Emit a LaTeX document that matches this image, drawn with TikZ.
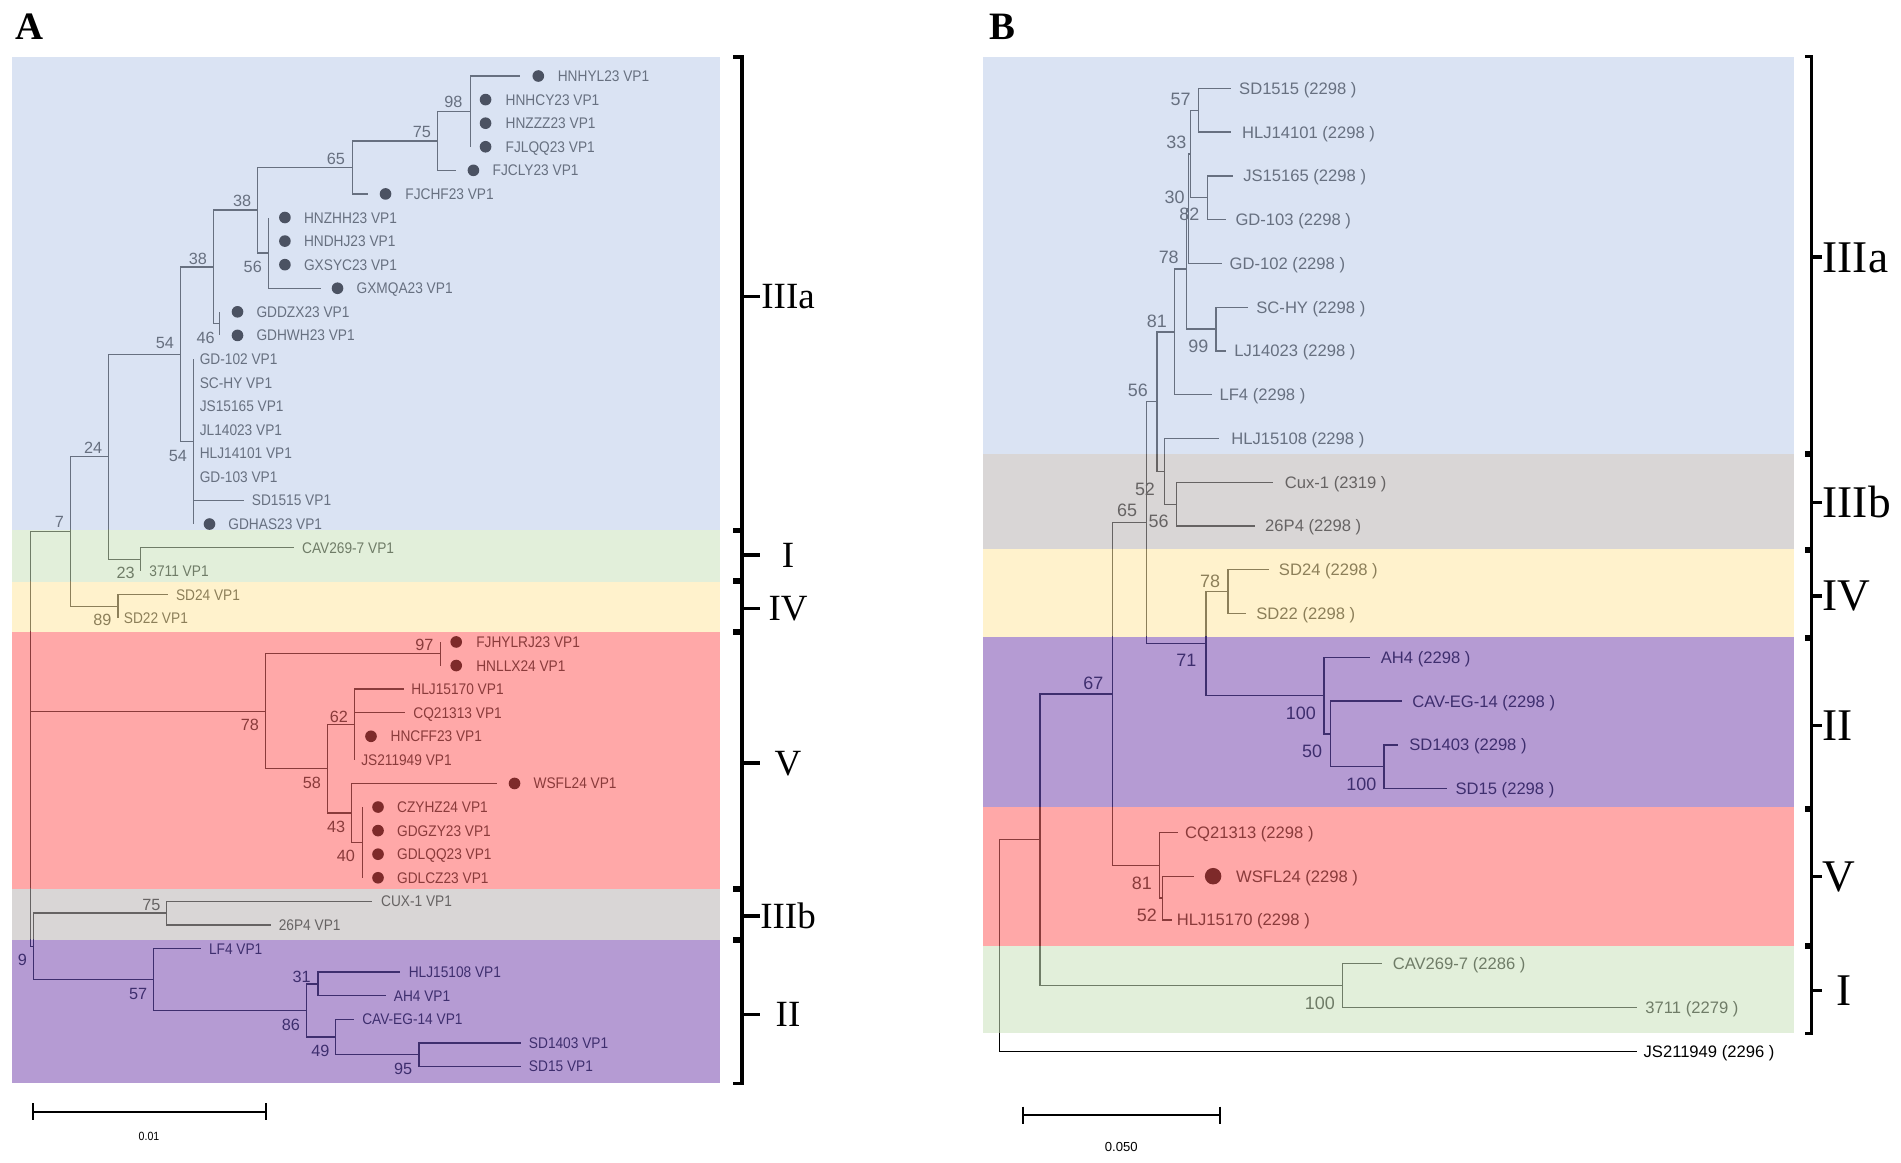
\documentclass[tikz,border=0pt]{standalone}
\usepackage{fontspec}
\setmainfont{Liberation Serif}
\newfontfamily\tipfA[FakeStretch=0.89]{Liberation Sans}
\newfontfamily\sansF{Liberation Sans}
\definecolor{blueBG}{HTML}{DAE3F3}
\definecolor{greenBG}{HTML}{E2EFDA}
\definecolor{yellowBG}{HTML}{FFF2CC}
\definecolor{redBG}{HTML}{FFA8A8}
\definecolor{greyBG}{HTML}{D9D6D6}
\definecolor{purpleBG}{HTML}{B59BD3}
\definecolor{blueTX}{HTML}{677080}
\definecolor{greenTX}{HTML}{6F7C67}
\definecolor{yellowTX}{HTML}{8C7F59}
\definecolor{redTX}{HTML}{8A3B3B}
\definecolor{greyTX}{HTML}{666363}
\definecolor{purpleTX}{HTML}{3E2E6E}
\definecolor{blueCirc}{HTML}{4B5262}
\definecolor{redCirc}{HTML}{7E2A2A}
\tikzset{
 tipa/.style={anchor=west, inner sep=0pt, font=\tipfA\fontsize{6.35pt}{7pt}\selectfont, text height=4.55pt, text depth=0pt},
 bsa/.style={inner sep=0pt, font=\sansF\fontsize{6.7pt}{7pt}\selectfont, text height=4.8pt, text depth=0pt},
 tipb/.style={anchor=west, inner sep=0pt, font=\sansF\fontsize{6.85pt}{8pt}\selectfont, text height=4.9pt, text depth=0pt},
 bsb/.style={inner sep=0pt, font=\sansF\fontsize{7.4pt}{8pt}\selectfont, text height=5.3pt, text depth=0pt},
 dota/.style={circle, inner sep=0pt, minimum size=4.8pt},
 dotb/.style={circle, inner sep=0pt, minimum size=6.8pt},
 edge/.style={line width=0.55pt, line join=miter},
 brk/.style={line width=1.35pt, line cap=butt, line join=miter},
 cladea/.style={inner sep=0pt, font=\fontsize{15.25pt}{16pt}\selectfont, text height=10.1pt, text depth=0pt},
 cladeb/.style={inner sep=0pt, anchor=west, font=\fontsize{18.7pt}{19pt}\selectfont, text height=12.4pt, text depth=0pt},
 panel/.style={inner sep=0pt, font=\bfseries\fontsize{16pt}{17pt}\selectfont},
 scaletxt/.style={inner sep=0pt}
}
\newcommand\edgesA[1]{\draw[edge,#1]
 (ra) |- (a7) (ra) |- (a78) (ra) |- (a9)
 (a7) |- (a24) (a7) |- (a89)
 (a24) |- (a54a) (a24) |- (a23)
 (a54a) |- (a38b) (a54a) |- (a54b)
 (a38b) |- (a38a) (a38b) |- (a46)
 (a38a) |- (a65) (a38a) |- (a56)
 (a65) |- (a75) (a65) |- (ta5)
 (a75) |- (a98) (a75) |- (ta4)
 (a98) |- (ta0) (a98) |- (ta1) (a98) |- (ta2) (a98) |- (ta3)
 (a56) |- (ta6) (a56) |- (ta7) (a56) |- (ta8) (a56) |- (ta9)
 (a46) |- (ta10) (a46) |- (ta11)
 (a54b) |- (ta12) (a54b) |- (ta13) (a54b) |- (ta14) (a54b) |- (ta15)
 (a54b) |- (ta16) (a54b) |- (ta17) (a54b) |- (ta18) (a54b) |- (ta19)
 (a23) |- (ta20) (a23) |- (ta21)
 (a89) |- (ta22) (a89) |- (ta23)
 (a78) |- (a97) (a78) |- (a58)
 (a97) |- (ta24) (a97) |- (ta25)
 (a58) |- (a62) (a58) |- (a43)
 (a62) |- (ta26) (a62) |- (ta27) (a62) |- (ta28) (a62) |- (ta29)
 (a43) |- (ta30) (a43) |- (a40)
 (a40) |- (ta31) (a40) |- (ta32) (a40) |- (ta33) (a40) |- (ta34)
 (a9) |- (a75g) (a9) |- (a57)
 (a75g) |- (ta35) (a75g) |- (ta36)
 (a57) |- (ta37) (a57) |- (a86)
 (a86) |- (a31) (a86) |- (a49)
 (a31) |- (ta38) (a31) |- (ta39)
 (a49) |- (ta40) (a49) |- (a95)
 (a95) |- (ta41) (a95) |- (ta42);}
\newcommand\edgesB[1]{\draw[edge,#1]
 (rb) |- (bin) (rb) |- (tb22)
 (bin) |- (b67) (bin) |- (b100c)
 (b67) |- (b65) (b67) |- (b81b)
 (b65) |- (b56) (b65) |- (b71)
 (b56) |- (b81) (b56) |- (b52)
 (b81) |- (b78) (b81) |- (tb7)
 (b78) |- (b30) (b78) |- (b99)
 (b30) |- (b33) (b30) |- (tb4)
 (b33) |- (b57) (b33) |- (b82)
 (b57) |- (tb0) (b57) |- (tb1)
 (b82) |- (tb2) (b82) |- (tb3)
 (b99) |- (tb5) (b99) |- (tb6)
 (b52) |- (tb8) (b52) |- (b56b)
 (b56b) |- (tb9) (b56b) |- (tb10)
 (b71) |- (b78b) (b71) |- (b100)
 (b78b) |- (tb11) (b78b) |- (tb12)
 (b100) |- (tb13) (b100) |- (b50)
 (b50) |- (tb14) (b50) |- (b100b)
 (b100b) |- (tb15) (b100b) |- (tb16)
 (b81b) |- (tb17) (b81b) |- (b52b)
 (b52b) |- (tb18) (b52b) |- (tb19)
 (b100c) |- (tb20) (b100c) |- (tb21);}
\newcommand\bracketA[4]{% y1, y2, ytick, label
 \draw[brk] (605,#1) -- (612,#1) -- (612,#2) -- (605,#2);
 \draw[brk] (612,#3) -- (627,#3);
 \node[cladea] at (650,#3) {#4};}
\newcommand\bracketB[3]{%
 \draw[brk] (1488.8,#1) -- (1494.3,#1) -- (1494.3,#2) -- (1488.8,#2);
 \draw[brk] (1494.3,#3) -- (1502.8,#3);}
\begin{document}
\begin{tikzpicture}[x=0.5pt,y=-0.5pt]
\useasboundingbox (0,0) rectangle (1568,959);
\fill[white] (0,0) rectangle (1568,959);
% ---------- backgrounds
\fill[blueBG] (10,47) rectangle (594,437);
\fill[greenBG] (10,437) rectangle (594,480);
\fill[yellowBG] (10,480) rectangle (594,521);
\fill[redBG] (10,521) rectangle (594,733);
\fill[greyBG] (10,733) rectangle (594,775);
\fill[purpleBG] (10,775) rectangle (594,893);
\fill[blueBG] (811,47.3) rectangle (1480,374.7);
\fill[greyBG] (811,374.7) rectangle (1480,453.1);
\fill[yellowBG] (811,453.1) rectangle (1480,525.1);
\fill[purpleBG] (811,525.1) rectangle (1480,665.9);
\fill[redBG] (811,665.9) rectangle (1480,780.3);
\fill[greenBG] (811,780.3) rectangle (1480,852.3);
% ---------- tree A coordinates
\coordinate (ra) at (25,609.5);
\coordinate (a7) at (58.4,438.56);
\coordinate (a24) at (89.5,376.79);
\coordinate (a54a) at (149,292.15);
\coordinate (a38b) at (175.9,220.12);
\coordinate (a38a) at (212.4,173.32);
\coordinate (a65) at (290.7,138.07);
\coordinate (a75) at (361,116.19);
\coordinate (a98) at (388,91.875);
\coordinate (a56) at (221.6,208.575);
\coordinate (a46) at (181.3,266.925);
\coordinate (a54b) at (159.4,364.175);
\coordinate (a23) at (116,461.425);
\coordinate (a89) at (97.2,500.325);
\coordinate (a78) at (218.9,586.63);
\coordinate (a97) at (363.3,539.225);
\coordinate (a58) at (270,634.04);
\coordinate (a62) at (292.6,597.575);
\coordinate (a43) at (290,670.51);
\coordinate (a40) at (298.8,694.825);
\coordinate (a9) at (27.6,780.53);
\coordinate (a75g) at (137.5,753.175);
\coordinate (a57) at (126.7,807.88);
\coordinate (a86) at (252.7,833.41);
\coordinate (a31) at (262.3,811.525);
\coordinate (a49) at (276.5,855.29);
\coordinate (a95) at (345.6,869.875);
\coordinate (ta0) at (429,62.7);
\coordinate (ta1) at (388,82.15);
\coordinate (ta2) at (388,101.6);
\coordinate (ta3) at (388,121.05);
\coordinate (ta4) at (376,140.5);
\coordinate (ta5) at (303.4,159.95);
\coordinate (ta6) at (221.6,179.4);
\coordinate (ta7) at (221.6,198.85);
\coordinate (ta8) at (221.6,218.3);
\coordinate (ta9) at (265,237.75);
\coordinate (ta10) at (181.3,257.2);
\coordinate (ta11) at (181.3,276.65);
\coordinate (ta12) at (159.4,296.1);
\coordinate (ta13) at (159.4,315.55);
\coordinate (ta14) at (159.4,335);
\coordinate (ta15) at (159.4,354.45);
\coordinate (ta16) at (159.4,373.9);
\coordinate (ta17) at (159.4,393.35);
\coordinate (ta18) at (201.6,412.8);
\coordinate (ta19) at (159.4,432.25);
\coordinate (ta20) at (242.7,451.7);
\coordinate (ta21) at (116,471.15);
\coordinate (ta22) at (138.2,490.6);
\coordinate (ta23) at (97.2,510.05);
\coordinate (ta24) at (363.3,529.5);
\coordinate (ta25) at (363.3,548.95);
\coordinate (ta26) at (333.3,568.4);
\coordinate (ta27) at (334,587.85);
\coordinate (ta28) at (292.6,607.3);
\coordinate (ta29) at (292.6,626.75);
\coordinate (ta30) at (410,646.2);
\coordinate (ta31) at (298.8,665.65);
\coordinate (ta32) at (298.8,685.1);
\coordinate (ta33) at (298.8,704.55);
\coordinate (ta34) at (298.8,724);
\coordinate (ta35) at (307.2,743.45);
\coordinate (ta36) at (223.5,762.9);
\coordinate (ta37) at (165.9,782.35);
\coordinate (ta38) at (330.3,801.8);
\coordinate (ta39) at (318.7,821.25);
\coordinate (ta40) at (291.9,840.7);
\coordinate (ta41) at (430,860.15);
\coordinate (ta42) at (430,879.6);
% ---------- tree B coordinates
\coordinate (rb) at (824.5,780);
\coordinate (bin) at (857.8,692.67);
\coordinate (b67) at (917.5,572.38);
\coordinate (b100c) at (1107.3,812.95);
\coordinate (b65) at (945.9,431.08);
\coordinate (b81b) at (956.6,713.68);
\coordinate (b56) at (954.2,331.24);
\coordinate (b71) at (994.8,530.92);
\coordinate (b81) at (968.8,273.71);
\coordinate (b52) at (960.5,388.78);
\coordinate (b78) at (978.6,221.81);
\coordinate (b30) at (980.1,172.175);
\coordinate (b99) at (1003.1,271.45);
\coordinate (b33) at (982.1,127.05);
\coordinate (b57) at (988.4,90.95);
\coordinate (b82) at (995.7,163.15);
\coordinate (b56b) at (970.3,415.85);
\coordinate (b78b) at (1012.9,488.05);
\coordinate (b100) at (1092.1,573.79);
\coordinate (b50) at (1097.5,605.38);
\coordinate (b100b) at (1141.5,632.45);
\coordinate (b52b) at (959.1,740.75);
\coordinate (tb0) at (1015.3,72.9);
\coordinate (tb1) at (1015.3,109);
\coordinate (tb2) at (1016.8,145.1);
\coordinate (tb3) at (1011.4,181.2);
\coordinate (tb4) at (1008,217.3);
\coordinate (tb5) at (1029,253.4);
\coordinate (tb6) at (1011.4,289.5);
\coordinate (tb7) at (999.7,325.6);
\coordinate (tb8) at (1005.5,361.7);
\coordinate (tb9) at (1049.6,397.8);
\coordinate (tb10) at (1034.9,433.9);
\coordinate (tb11) at (1047.1,470);
\coordinate (tb12) at (1027.5,506.1);
\coordinate (tb13) at (1130.3,542.2);
\coordinate (tb14) at (1156.2,578.3);
\coordinate (tb15) at (1153.3,614.4);
\coordinate (tb16) at (1193.9,650.5);
\coordinate (tb17) at (971.3,686.6);
\coordinate (tb18) at (985,722.7);
\coordinate (tb19) at (966.4,758.8);
\coordinate (tb20) at (1140.1,794.9);
\coordinate (tb21) at (1350.4,831);
\coordinate (tb22) at (1350.4,867.1);
% ---------- edges, coloured per region
\begin{scope}\clip (10,47) rectangle (594,437); \edgesA{blueTX}\end{scope}
\begin{scope}\clip (10,437) rectangle (594,480); \edgesA{greenTX}\end{scope}
\begin{scope}\clip (10,480) rectangle (594,521); \edgesA{yellowTX}\end{scope}
\begin{scope}\clip (10,521) rectangle (594,733); \edgesA{redTX}\end{scope}
\begin{scope}\clip (10,733) rectangle (594,775); \edgesA{greyTX}\end{scope}
\begin{scope}\clip (10,775) rectangle (594,893); \edgesA{purpleTX}\end{scope}
\begin{scope}\clip (811,47.3) rectangle (1480,374.7); \edgesB{blueTX}\end{scope}
\begin{scope}\clip (811,374.7) rectangle (1480,453.1); \edgesB{greyTX}\end{scope}
\begin{scope}\clip (811,453.1) rectangle (1480,525.1); \edgesB{yellowTX}\end{scope}
\begin{scope}\clip (811,525.1) rectangle (1480,665.9); \edgesB{purpleTX}\end{scope}
\begin{scope}\clip (811,665.9) rectangle (1480,780.3); \edgesB{redTX}\end{scope}
\begin{scope}\clip (811,780.3) rectangle (1480,852.3); \edgesB{greenTX}\end{scope}
\begin{scope}\clip (800,852.3) rectangle (1568,959); \edgesB{black}\end{scope}
% ---------- tips A
\begin{scope}[every node/.append style={text=blueTX}]
\node[tipa] (la0) at (459.7,62.7) {HNHYL23 VP1};
\node[tipa] (la1) at (416.7,82.15) {HNHCY23 VP1};
\node[tipa] (la2) at (416.7,101.6) {HNZZZ23 VP1};
\node[tipa] (la3) at (416.7,121.05) {FJLQQ23 VP1};
\node[tipa] (la4) at (406,140.5) {FJCLY23 VP1};
\node[tipa] (la5) at (334,159.95) {FJCHF23 VP1};
\node[tipa] (la6) at (250.4,179.4) {HNZHH23 VP1};
\node[tipa] (la7) at (250.4,198.85) {HNDHJ23 VP1};
\node[tipa] (la8) at (250.4,218.3) {GXSYC23 VP1};
\node[tipa] (la9) at (293.8,237.75) {GXMQA23 VP1};
\node[tipa] (la10) at (211.2,257.2) {GDDZX23 VP1};
\node[tipa] (la11) at (211.2,276.65) {GDHWH23 VP1};
\node[tipa] (la12) at (164.4,296.1) {GD-102 VP1};
\node[tipa] (la13) at (164.4,315.55) {SC-HY VP1};
\node[tipa] (la14) at (164.4,335) {JS15165 VP1};
\node[tipa] (la15) at (164.4,354.45) {JL14023 VP1};
\node[tipa] (la16) at (164.4,373.9) {HLJ14101 VP1};
\node[tipa] (la17) at (164.4,393.35) {GD-103 VP1};
\node[tipa] (la18) at (207.4,412.8) {SD1515 VP1};
\node[tipa] (la19) at (188,432.25) {GDHAS23 VP1};
\node[bsa] (ba98) at (374,83.9) {98};
\node[bsa] (ba75) at (348,108.6) {75};
\node[bsa] (ba65) at (277,130.6) {65};
\node[bsa] (ba38a) at (199.7,165.8) {38};
\node[bsa] (ba38b) at (163.2,213) {38};
\node[bsa] (ba56) at (208.5,220) {56};
\node[bsa] (ba46) at (169.7,278.2) {46};
\node[bsa] (ba54a) at (136,283) {54};
\node[bsa] (ba54b) at (146.7,376) {54};
\node[bsa] (ba24) at (76.8,369.3) {24};
\node[bsa] (ba7) at (49,430.3) {7};
\end{scope}
\foreach \n/\x/\y in {0/444/62.7,1/400.5/82.15,2/400.5/101.6,3/400.5/121.05,4/390.5/140.5,5/318/159.95,6/235/179.4,7/235/198.85,8/235/218.3,9/278.4/237.75,10/195.9/257.2,11/195.9/276.65,19/172.8/432.25}
 \node[dota, fill=blueCirc] (ca\n) at (\x,\y) {};
\begin{scope}[every node/.append style={text=greenTX}]
\node[tipa] (la20) at (248.8,451.7) {CAV269-7 VP1};
\node[tipa] (la21) at (122.9,471.15) {3711 VP1};
\node[bsa] (ba23) at (103.7,472.3) {23};
\end{scope}
\begin{scope}[every node/.append style={text=yellowTX}]
\node[tipa] (la22) at (144.8,490.6) {SD24 VP1};
\node[tipa] (la23) at (101.8,510.05) {SD22 VP1};
\node[bsa] (ba89) at (84.5,510.8) {89};
\end{scope}
\begin{scope}[every node/.append style={text=redTX}]
\node[tipa] (la24) at (392.5,529.5) {FJHYLRJ23 VP1};
\node[tipa] (la25) at (392.5,548.95) {HNLLX24 VP1};
\node[tipa] (la26) at (339,568.4) {HLJ15170 VP1};
\node[tipa] (la27) at (340.6,587.85) {CQ21313 VP1};
\node[tipa] (la28) at (321.8,607.3) {HNCFF23 VP1};
\node[tipa] (la29) at (297.6,626.75) {JS211949 VP1};
\node[tipa] (la30) at (439.7,646.2) {WSFL24 VP1};
\node[tipa] (la31) at (327.2,665.65) {CZYHZ24 VP1};
\node[tipa] (la32) at (327.2,685.1) {GDGZY23 VP1};
\node[tipa] (la33) at (327.2,704.55) {GDLQQ23 VP1};
\node[tipa] (la34) at (327.2,724) {GDLCZ23 VP1};
\node[bsa] (ba97) at (350,531.5) {97};
\node[bsa] (ba62) at (279.6,591.1) {62};
\node[bsa] (ba78) at (206.2,598) {78};
\node[bsa] (ba58) at (257.3,645.6) {58};
\node[bsa] (ba43) at (277.3,681.9) {43};
\node[bsa] (ba40) at (285.3,706) {40};
\end{scope}
\foreach \n/\x/\y in {24/376.3/529.5,25/376.3/548.95,28/306/607.3,30/424.4/646.2,31/311.8/665.65,32/311.8/685.1,33/311.8/704.55,34/311.8/724}
 \node[dota, fill=redCirc] (ca\n) at (\x,\y) {};
\begin{scope}[every node/.append style={text=greyTX}]
\node[tipa] (la35) at (314,743.45) {CUX-1 VP1};
\node[tipa] (la36) at (229.6,762.9) {26P4 VP1};
\node[bsa] (ba75g) at (124.8,746.5) {75};
\end{scope}
\begin{scope}[every node/.append style={text=purpleTX}]
\node[tipa] (la37) at (172,782.35) {LF4 VP1};
\node[tipa] (la38) at (336.8,801.8) {HLJ15108 VP1};
\node[tipa] (la39) at (324.5,821.25) {AH4 VP1};
\node[tipa] (la40) at (298.4,840.7) {CAV-EG-14 VP1};
\node[tipa] (la41) at (435.9,860.15) {SD1403 VP1};
\node[tipa] (la42) at (435.9,879.6) {SD15 VP1};
\node[bsa] (ba9) at (18.4,791.8) {9};
\node[bsa] (ba57) at (114,819.9) {57};
\node[bsa] (ba31) at (248.8,805.6) {31};
\node[bsa] (ba86) at (240,845.4) {86};
\node[bsa] (ba49) at (264.2,866.6) {49};
\node[bsa] (ba95) at (332.6,881.2) {95};
\end{scope}
% ---------- tips B
\begin{scope}[every node/.append style={text=blueTX}]
\node[tipb] (lb0) at (1021.7,72.9) {SD1515 (2298 )};
\node[tipb] (lb1) at (1024.1,109) {HLJ14101 (2298 )};
\node[tipb] (lb2) at (1025.1,145.1) {JS15165 (2298 )};
\node[tipb] (lb3) at (1018.7,181.2) {GD-103 (2298 )};
\node[tipb] (lb4) at (1013.9,217.3) {GD-102 (2298 )};
\node[tipb] (lb5) at (1035.9,253.4) {SC-HY (2298 )};
\node[tipb] (lb6) at (1017.8,289.5) {LJ14023 (2298 )};
\node[tipb] (lb7) at (1005.5,325.6) {LF4 (2298 )};
\node[tipb] (lb8) at (1015.3,361.7) {HLJ15108 (2298 )};
\node[bsb] (bb57) at (973.7,81.9) {57};
\node[bsb] (bb33) at (970.3,116.9) {33};
\node[bsb] (bb30) at (968.8,162.2) {30};
\node[bsb] (bb82) at (981.1,176.5) {82};
\node[bsb] (bb78) at (964,212.2) {78};
\node[bsb] (bb81) at (954.2,264.5) {81};
\node[bsb] (bb99) at (988.4,285.4) {99};
\node[bsb] (bb56) at (938.5,321.7) {56};
\end{scope}
\begin{scope}[every node/.append style={text=greyTX}]
\node[tipb] (lb9) at (1059.4,397.8) {Cux-1 (2319 )};
\node[tipb] (lb10) at (1043.2,433.9) {26P4 (2298 )};
\node[bsb] (bb52) at (944.4,403.6) {52};
\node[bsb] (bb65) at (929.7,420.6) {65};
\node[bsb] (bb56b) at (955.6,429.5) {56};
\end{scope}
\begin{scope}[every node/.append style={text=yellowTX}]
\node[tipb] (lb11) at (1054.5,470) {SD24 (2298 )};
\node[tipb] (lb12) at (1035.9,506.1) {SD22 (2298 )};
\node[bsb] (bb78b) at (998.2,479) {78};
\end{scope}
\begin{scope}[every node/.append style={text=purpleTX}]
\node[tipb] (lb13) at (1138.6,542.2) {AH4 (2298 )};
\node[tipb] (lb14) at (1164.5,578.3) {CAV-EG-14 (2298 )};
\node[tipb] (lb15) at (1162.1,614.4) {SD1403 (2298 )};
\node[tipb] (lb16) at (1200.2,650.5) {SD15 (2298 )};
\node[bsb] (bb71) at (978.6,544.4) {71};
\node[bsb] (bb67) at (901.8,563) {67};
\node[bsb] (bb100) at (1073,587.8) {100};
\node[bsb] (bb50) at (1082.3,619.9) {50};
\node[bsb] (bb100b) at (1122.9,646.6) {100};
\end{scope}
\begin{scope}[every node/.append style={text=redTX}]
\node[tipb] (lb17) at (977.2,686.6) {CQ21313 (2298 )};
\node[tipb] (lb18) at (1019.2,722.7) {WSFL24 (2298 )};
\node[tipb] (lb19) at (970.3,758.8) {HLJ15170 (2298 )};
\node[bsb] (bb81b) at (941.9,728) {81};
\node[bsb] (bb52b) at (945.9,754.7) {52};
\end{scope}
\node[dotb, fill=redCirc] (cb18) at (1000.6,722.7) {};
\begin{scope}[every node/.append style={text=greenTX}]
\node[tipb] (lb20) at (1148.4,794.9) {CAV269-7 (2286 )};
\node[tipb] (lb21) at (1356.8,831) {3711 (2279 )};
\node[bsb] (bb100c) at (1088.7,827.5) {100};
\end{scope}
\node[tipb] (lb22) at (1355.3,867.1) {JS211949 (2296 )};
% ---------- scale bars
\coordinate (sa1) at (26.9,917); \coordinate (sa2) at (219.7,917);
\draw[line width=0.75pt] (sa1) -- (sa2);
\draw[line width=0.75pt] ([yshift=3.5]sa1) -- ([yshift=-3.5]sa1) ([yshift=3.5]sa2) -- ([yshift=-3.5]sa2);
\node[scaletxt, font=\tipfA\fontsize{4.9pt}{5pt}\selectfont] (sla) at (122.9,937.5) {0.01};
\coordinate (sb1) at (844.1,919.7); \coordinate (sb2) at (1006.5,919.7);
\draw[line width=0.75pt] (sb1) -- (sb2);
\draw[line width=0.75pt] ([yshift=3.5]sb1) -- ([yshift=-3.5]sb1) ([yshift=3.5]sb2) -- ([yshift=-3.5]sb2);
\node[scaletxt, font=\sansF\fontsize{5.4pt}{6pt}\selectfont] (slb) at (924.8,945.8) {0.050};
% ---------- brackets A
\bracketA{47}{436.5}{244.3}{IIIa}
\bracketA{438.5}{478.5}{457.8}{I}
\bracketA{480.5}{520.5}{501.6}{IV}
\bracketA{522.5}{732.5}{629.4}{V}
\bracketA{734.5}{774.5}{755.5}{IIIb}
\bracketA{776.5}{893.5}{836.8}{II}
% ---------- brackets B
\bracketB{46.5}{373.5}{212}
\bracketB{375.5}{452.5}{414.5}
\bracketB{454.5}{525.5}{491.5}
\bracketB{527.5}{666}{598.5}
\bracketB{668}{779.5}{723}
\bracketB{781.5}{852.5}{817}
\node[cladeb] (kb1) at (1503,212) {IIIa};
\node[cladeb] (kb2) at (1503,414.5) {IIIb};
\node[cladeb] (kb3) at (1503,491.5) {IV};
\node[cladeb] (kb4) at (1503,598.5) {II};
\node[cladeb] (kb5) at (1503,723) {V};
\node[cladeb] (kb6) at (1514,817) {I};
% ---------- panel letters
\node[panel] (pA) at (24,22) {A};
\node[panel] (pB) at (827,22) {B};
\end{tikzpicture}
\end{document}
